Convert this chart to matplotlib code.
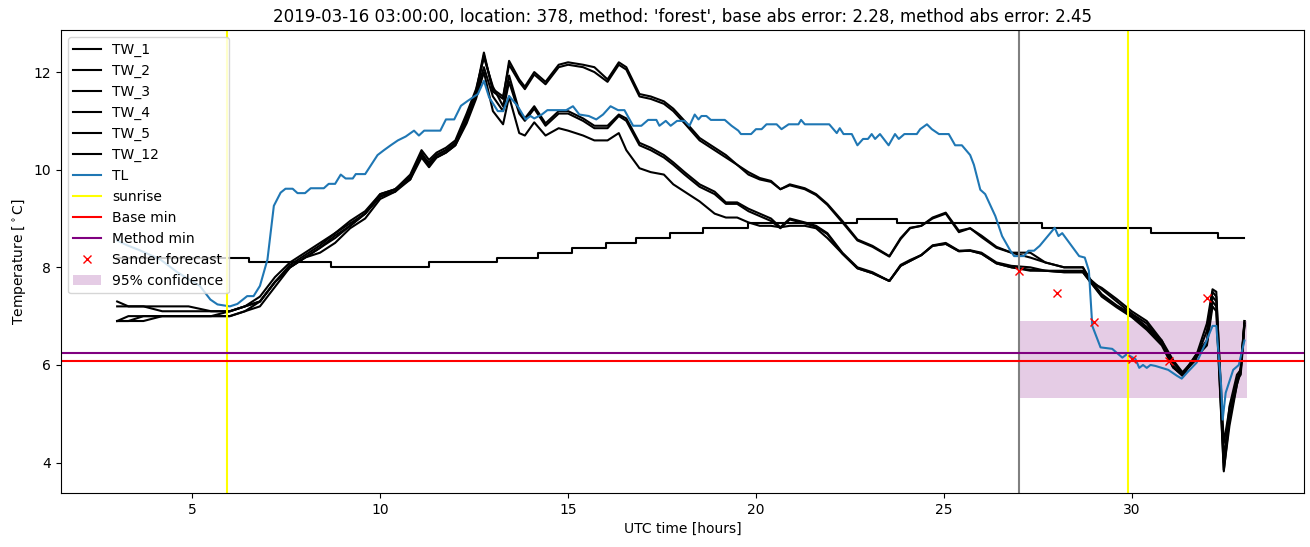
import matplotlib
matplotlib.use("Agg")
import matplotlib.pyplot as plt

# time grid shared by the TW_1..TW_5 curves [hours UTC]
tw_hours = [3.0, 3.3, 3.7, 4.2, 4.9, 5.5, 6.0, 6.4, 6.8, 7.2,
            7.6, 8.0, 8.4, 8.8, 9.2, 9.6, 10.0, 10.4, 10.8, 11.1,
            11.3, 11.5, 11.75, 12.0, 12.3, 12.55, 12.76, 13.0, 13.27, 13.43,
            13.7, 13.85, 14.1, 14.4, 14.75, 15.0, 15.4, 15.7, 16.05, 16.35,
            16.55, 16.9, 17.2, 17.55, 17.8, 18.1, 18.5, 18.9, 19.2, 19.5,
            19.8, 20.1, 20.4, 20.65, 20.9, 21.3, 21.6, 21.9, 22.3, 22.7,
            23.1, 23.55, 23.85, 24.1, 24.4, 24.7, 25.05, 25.4, 25.7, 26.0,
            26.4, 26.8, 27.3, 27.7, 28.2, 28.7, 28.9, 29.2, 29.6, 30.0,
            30.4, 30.8, 31.1, 31.35, 31.7, 32.0, 32.15, 32.25, 32.45, 32.6,
            32.8, 32.9, 33.0]

tw_1 = [7.3, 7.2, 7.2, 7.2, 7.2, 7.1, 7.1, 7.2, 7.3, 7.7,
        8.05, 8.25, 8.45, 8.7, 8.95, 9.15, 9.5, 9.6, 9.85, 10.3,
        10.15, 10.3, 10.4, 10.55, 11.1, 11.6, 12.4, 11.6, 11.45, 12.23,
        11.85, 11.7, 12.0, 11.8, 12.15, 12.2, 12.15, 12.1, 11.85, 12.2,
        12.1, 11.55, 11.5, 11.4, 11.25, 11.0, 10.65, 10.45, 10.3, 10.1,
        9.95, 9.83, 9.77, 9.6, 9.7, 9.62, 9.5, 9.3, 8.95, 8.57,
        8.44, 8.23, 8.6, 8.81, 8.85, 9.02, 9.12, 8.75, 8.8, 8.65,
        8.42, 8.3, 8.3, 8.1, 8.0, 8.0, 7.7, 7.58, 7.35, 7.1,
        6.9, 6.5, 6.1, 5.85, 6.15, 6.85, 7.55, 7.5, 4.1, 4.9,
        5.6, 5.95, 6.9]
tw_2 = [7.2, 7.2, 7.2, 7.1, 7.1, 7.1, 7.1, 7.2, 7.4, 7.8,
        8.1, 8.3, 8.5, 8.7, 8.9, 9.1, 9.45, 9.6, 9.8, 10.35,
        10.1, 10.25, 10.35, 10.5, 11.0, 11.55, 12.35, 11.65, 11.5, 12.15,
        11.8, 11.65, 11.95, 11.75, 12.1, 12.15, 12.1, 12.0, 11.8, 12.15,
        12.05, 11.5, 11.45, 11.35, 11.2, 10.95, 10.6, 10.4, 10.25, 10.1,
        9.9, 9.8, 9.75, 9.6, 9.68, 9.6, 9.48, 9.28, 8.92, 8.55,
        8.42, 8.22, 8.58, 8.8, 8.85, 9.0, 9.1, 8.72, 8.8, 8.62,
        8.4, 8.3, 8.2, 8.1, 8.0, 8.0, 7.75, 7.55, 7.3, 7.05,
        6.85, 6.45, 6.05, 5.82, 6.1, 6.7, 7.5, 7.4, 4.4, 5.1,
        5.7, 5.9, 6.85]
tw_3 = [6.9, 7.0, 7.0, 7.0, 7.0, 7.0, 7.1, 7.2, 7.3, 7.7,
        8.0, 8.2, 8.4, 8.65, 8.85, 9.1, 9.5, 9.6, 9.9, 10.4,
        10.2, 10.35, 10.45, 10.6, 11.15, 11.65, 12.3, 11.7, 11.3, 11.93,
        11.2, 11.05, 11.3, 10.95, 11.2, 11.2, 11.05, 10.9, 10.9, 11.13,
        11.05, 10.55, 10.45, 10.3, 10.15, 9.95, 9.7, 9.55, 9.33, 9.33,
        9.2, 9.1, 9.0, 8.82, 9.0, 8.92, 8.85, 8.7, 8.3, 8.0,
        7.9, 7.72, 8.05, 8.15, 8.25, 8.45, 8.5, 8.34, 8.35, 8.3,
        8.1, 8.03, 8.0, 7.93, 7.93, 7.93, 7.75, 7.45, 7.22, 7.04,
        6.78, 6.5, 5.98, 5.78, 6.19, 6.45, 7.3, 7.2, 3.85, 4.75,
        5.6, 5.85, 6.9]
tw_4 = [6.9, 6.9, 7.0, 7.0, 7.0, 7.0, 7.0, 7.1, 7.3, 7.7,
        8.0, 8.2, 8.4, 8.6, 8.85, 9.1, 9.45, 9.55, 9.85, 10.3,
        10.1, 10.3, 10.4, 10.55, 11.05, 11.55, 12.1, 11.5, 11.2, 11.8,
        11.15, 11.0, 11.25, 10.9, 11.15, 11.15, 11.0, 10.85, 10.85, 11.1,
        11.0, 10.5, 10.4, 10.25, 10.1, 9.9, 9.65, 9.5, 9.3, 9.3,
        9.15, 9.05, 8.95, 8.8, 8.98, 8.9, 8.83, 8.68, 8.28, 7.98,
        7.88, 7.72, 8.03, 8.13, 8.25, 8.44, 8.48, 8.33, 8.34, 8.28,
        8.08, 8.0, 7.95, 7.93, 7.9, 7.9, 7.7, 7.42, 7.2, 7.0,
        6.75, 6.45, 5.95, 5.78, 6.15, 6.4, 7.2, 7.1, 3.82, 4.9,
        5.7, 5.8, 6.8]
tw_5 = [6.9, 6.9, 6.9, 7.0, 7.0, 7.0, 7.0, 7.1, 7.2, 7.6,
        8.0, 8.2, 8.3, 8.5, 8.8, 9.0, 9.4, 9.55, 9.8, 10.25,
        10.05, 10.25, 10.35, 10.5, 10.95, 11.45, 12.0, 11.2, 10.93, 11.5,
        10.75, 10.7, 10.97, 10.7, 10.85, 10.8, 10.7, 10.6, 10.6, 10.75,
        10.4, 10.03, 9.95, 9.9, 9.7, 9.55, 9.35, 9.1, 9.02, 9.02,
        8.92, 8.85, 8.85, 8.82, 8.85, 8.85, 8.8, 8.6, 8.28, 7.98,
        7.88, 7.72, 8.03, 8.13, 8.25, 8.44, 8.48, 8.33, 8.34, 8.28,
        8.08, 8.0, 7.93, 7.93, 7.9, 7.9, 7.7, 7.4, 7.18, 6.98,
        6.72, 6.4, 5.95, 5.8, 6.2, 6.5, 7.4, 7.3, 4.0, 5.15,
        5.8, 5.9, 6.85]

# TW_12 only changes in 0.1 degree steps
tw12_hours = [3.0, 6.5, 8.7, 11.3, 13.1, 14.2, 15.1, 16.0, 16.8, 17.7,
              18.6, 19.8, 22.7, 23.75, 27.6, 30.5, 32.3, 33.0]
tw_12 = [8.2, 8.1, 8.0, 8.1, 8.2, 8.3, 8.4, 8.5, 8.6, 8.7,
         8.8, 8.9, 9.0, 8.9, 8.8, 8.7, 8.6, 8.6]

tl_hours = [3.0, 3.27, 3.6, 4.15, 4.6, 5.2, 5.48, 5.67, 6.0, 6.2,
            6.46, 6.63, 6.8, 7.0, 7.17, 7.35, 7.48, 7.67, 7.8, 8.0,
            8.15, 8.5, 8.63, 8.8, 8.95, 9.08, 9.27, 9.35, 9.6, 9.93,
            10.1, 10.28, 10.47, 10.68, 10.9, 11.03, 11.17, 11.6, 11.75, 11.97,
            12.15, 12.33, 12.6, 12.76, 12.9, 13.13, 13.27, 13.43, 13.66, 13.87,
            14.0, 14.1, 14.3, 14.45, 14.95, 15.13, 15.3, 15.55, 15.75, 15.93,
            16.13, 16.33, 16.5, 16.73, 16.95, 17.13, 17.35, 17.43, 17.6, 17.73,
            17.9, 18.1, 18.23, 18.37, 18.47, 18.55, 18.68, 18.8, 19.17, 19.35,
            19.53, 19.6, 19.87, 20.0, 20.15, 20.28, 20.55, 20.68, 20.87, 21.13,
            21.2, 21.3, 21.95, 22.15, 22.23, 22.33, 22.55, 22.7, 22.85, 22.98,
            23.08, 23.17, 23.3, 23.53, 23.7, 23.8, 23.95, 24.28, 24.37, 24.55,
            24.68, 24.87, 25.13, 25.3, 25.48, 25.7, 25.8, 25.97, 26.1, 26.37,
            26.55, 26.77, 26.87, 27.13, 27.25, 27.4, 27.55, 27.95, 28.05, 28.15,
            28.6, 28.75, 28.86, 28.95, 29.17, 29.48, 29.75, 29.87, 30.1, 30.2,
            30.3, 30.4, 30.5, 30.63, 30.97, 31.2, 31.33, 31.47, 31.73, 31.97,
            32.15, 32.25, 32.38, 32.42, 32.5, 32.7, 32.85, 33.0]
tl = [8.55, 8.45, 8.35, 8.16, 7.9, 7.62, 7.34, 7.24, 7.2, 7.25,
      7.41, 7.41, 7.62, 8.16, 9.26, 9.53, 9.61, 9.61, 9.52, 9.52,
      9.62, 9.62, 9.71, 9.71, 9.9, 9.82, 9.82, 9.91, 9.91, 10.3,
      10.4, 10.5, 10.6, 10.68, 10.8, 10.7, 10.8, 10.8, 11.03, 11.03,
      11.31, 11.41, 11.55, 11.82, 11.48, 11.2, 11.2, 11.51, 11.3, 11.03,
      11.1, 11.05, 11.13, 11.22, 11.22, 11.3, 11.13, 11.1, 11.03, 11.13,
      11.3, 11.22, 11.22, 10.9, 10.9, 11.02, 11.02, 10.9, 11.0, 10.9,
      11.0, 11.0, 10.9, 11.13, 11.03, 11.1, 11.1, 11.02, 11.02, 10.9,
      10.8, 10.73, 10.73, 10.83, 10.83, 10.93, 10.93, 10.83, 10.93, 10.93,
      11.02, 10.93, 10.93, 10.75, 10.85, 10.73, 10.73, 10.5, 10.63, 10.63,
      10.73, 10.63, 10.73, 10.5, 10.73, 10.63, 10.73, 10.73, 10.83, 10.93,
      10.83, 10.73, 10.73, 10.5, 10.5, 10.3, 10.1, 9.59, 9.5, 9.05,
      8.64, 8.34, 8.23, 8.23, 8.34, 8.34, 8.44, 8.81, 8.64, 8.7,
      8.23, 8.2, 7.93, 6.8, 6.36, 6.33, 6.15, 6.22, 6.12, 5.94,
      6.0, 5.94, 6.0, 5.98, 5.9, 5.78, 5.72, 5.84, 6.05, 6.46,
      6.8, 6.8, 5.57, 4.88, 5.43, 5.9, 6.0, 6.5]

sunrise_hours = [5.92, 29.91]
forecast_start = 27.0
base_min = 6.09
method_min = 6.25

sander_hours = [27, 28, 29, 30, 31, 32]
sander_vals = [7.92, 7.48, 6.87, 6.12, 6.08, 7.38]

conf_hours = [27.0, 33.08]
conf_low = 5.32
conf_high = 6.9

fig = plt.figure(figsize=(13.1, 5.47), dpi=100)
ax = fig.add_subplot(111)
fig.subplots_adjust(left=0.0464, right=0.9953, top=0.945, bottom=0.099)

for name, vals in [('TW_1', tw_1), ('TW_2', tw_2), ('TW_3', tw_3),
                   ('TW_4', tw_4), ('TW_5', tw_5)]:
    ax.plot(tw_hours, vals, color='black', label=name)
ax.plot(tw12_hours, tw_12, color='black', drawstyle='steps-post', label='TW_12')
ax.plot(tl_hours, tl, color='tab:blue', label='TL')

ax.axvline(sunrise_hours[0], color='yellow', label='sunrise')
ax.axvline(sunrise_hours[1], color='yellow')
ax.axvline(forecast_start, color='grey')
ax.axhline(base_min, color='red', label='Base min')
ax.axhline(method_min, color='purple', label='Method min')
ax.plot(sander_hours, sander_vals, 'x', color='red', linestyle='none', label='Sander forecast')
ax.fill_between(conf_hours, conf_low, conf_high, color='purple', alpha=0.2,
                linewidth=0, label='95% confidence')

ax.set_xlim(1.5, 34.58)
ax.set_ylim(3.38, 12.86)
ax.set_title("2019-03-16 03:00:00, location: 378, method: 'forest', "
             "base abs error: 2.28, method abs error: 2.45")
ax.set_xlabel('UTC time [hours]')
ax.set_ylabel(r'Temperature [$^\circ$C]')
ax.legend(loc='upper left')

fig.savefig('out.png', dpi=100)
